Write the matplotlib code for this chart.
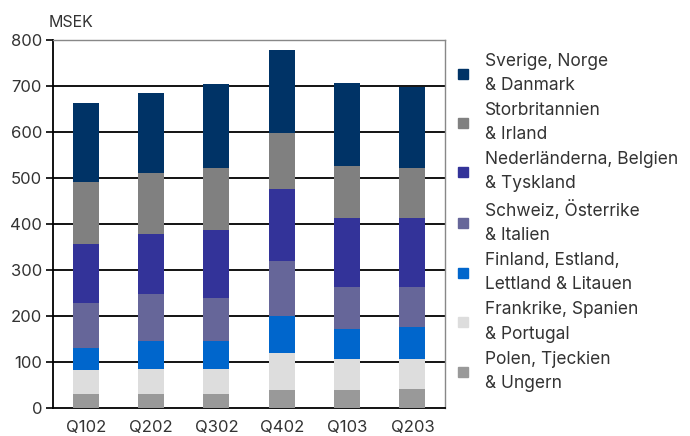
import matplotlib
matplotlib.use("Agg")
import matplotlib.pyplot as plt
from matplotlib.lines import Line2D
import numpy as np

plt.rcParams['font.family'] = ['Inter', 'DejaVu Sans']

quarters = ["Q102", "Q202", "Q302", "Q402", "Q103", "Q203"]

# bottom to top
polen = [29, 29, 29, 38, 38, 41]
frankrike = [52, 55, 55, 81, 68, 65]
finland = [49, 61, 61, 81, 65, 69]
schweiz = [98, 102, 93, 120, 92, 88]
nederlanderna = [128, 132, 149, 155, 149, 149]
storbritannien = [135, 132, 135, 123, 114, 110]
sverige = [173, 173, 182, 181, 181, 176]

series = [
    ("Polen, Tjeckien\n& Ungern", polen, "#999999"),
    ("Frankrike, Spanien\n& Portugal", frankrike, "#DDDDDD"),
    ("Finland, Estland,\nLettland & Litauen", finland, "#0066CC"),
    ("Schweiz, Österrike\n& Italien", schweiz, "#666699"),
    ("Nederländerna, Belgien\n& Tyskland", nederlanderna, "#333399"),
    ("Storbritannien\n& Irland", storbritannien, "#808080"),
    ("Sverige, Norge\n& Danmark", sverige, "#003366"),
]

fig = plt.figure(figsize=(6.9, 4.36), dpi=100)
ax = fig.add_axes([0.077, 0.065, 0.568, 0.843])

x = np.arange(len(quarters))
bottom = np.zeros(len(quarters))
for label, vals, col in series:
    ax.bar(x, vals, width=0.4, bottom=bottom, color=col, zorder=3, linewidth=0)
    bottom += np.array(vals)

ax.set_xlim(-0.5, len(quarters) - 0.5)
ax.set_ylim(0, 800)
ax.set_yticks(range(0, 801, 100))
ax.set_xticks(x)
ax.set_xticklabels(quarters)
for yv in range(100, 800, 100):
    ax.axhline(yv, color="black", lw=1.3, zorder=1)

for s in ["top", "right"]:
    ax.spines[s].set_color("#888888")
    ax.spines[s].set_linewidth(1.0)
for s in ["left", "bottom"]:
    ax.spines[s].set_color("black")
    ax.spines[s].set_linewidth(1.3)

txtc = "#333333"
ax.tick_params(axis="y", direction="out", length=5, width=1.2, pad=3,
               labelsize=12, labelcolor=txtc)
ax.tick_params(axis="x", length=0, pad=9, labelsize=12, labelcolor=txtc)

fig.text(0.07, 0.948, "MSEK", fontsize=11.5, color=txtc, ha="left", va="center")

handles = [Line2D([0], [0], marker="s", linestyle="none", markersize=7,
                  markerfacecolor=col, markeredgecolor=col)
           for _, _, col in series[::-1]]
labels = [lab for lab, _, _ in series[::-1]]
leg = fig.legend(handles, labels, loc="upper left", bbox_to_anchor=(0.639, 0.915),
                 frameon=False, fontsize=12.5, handlelength=0.8, handletextpad=0.85,
                 labelspacing=0.46, labelcolor=txtc)
for t in leg.get_texts():
    t.set_linespacing(1.55)

fig.savefig("out.png", dpi=100)
